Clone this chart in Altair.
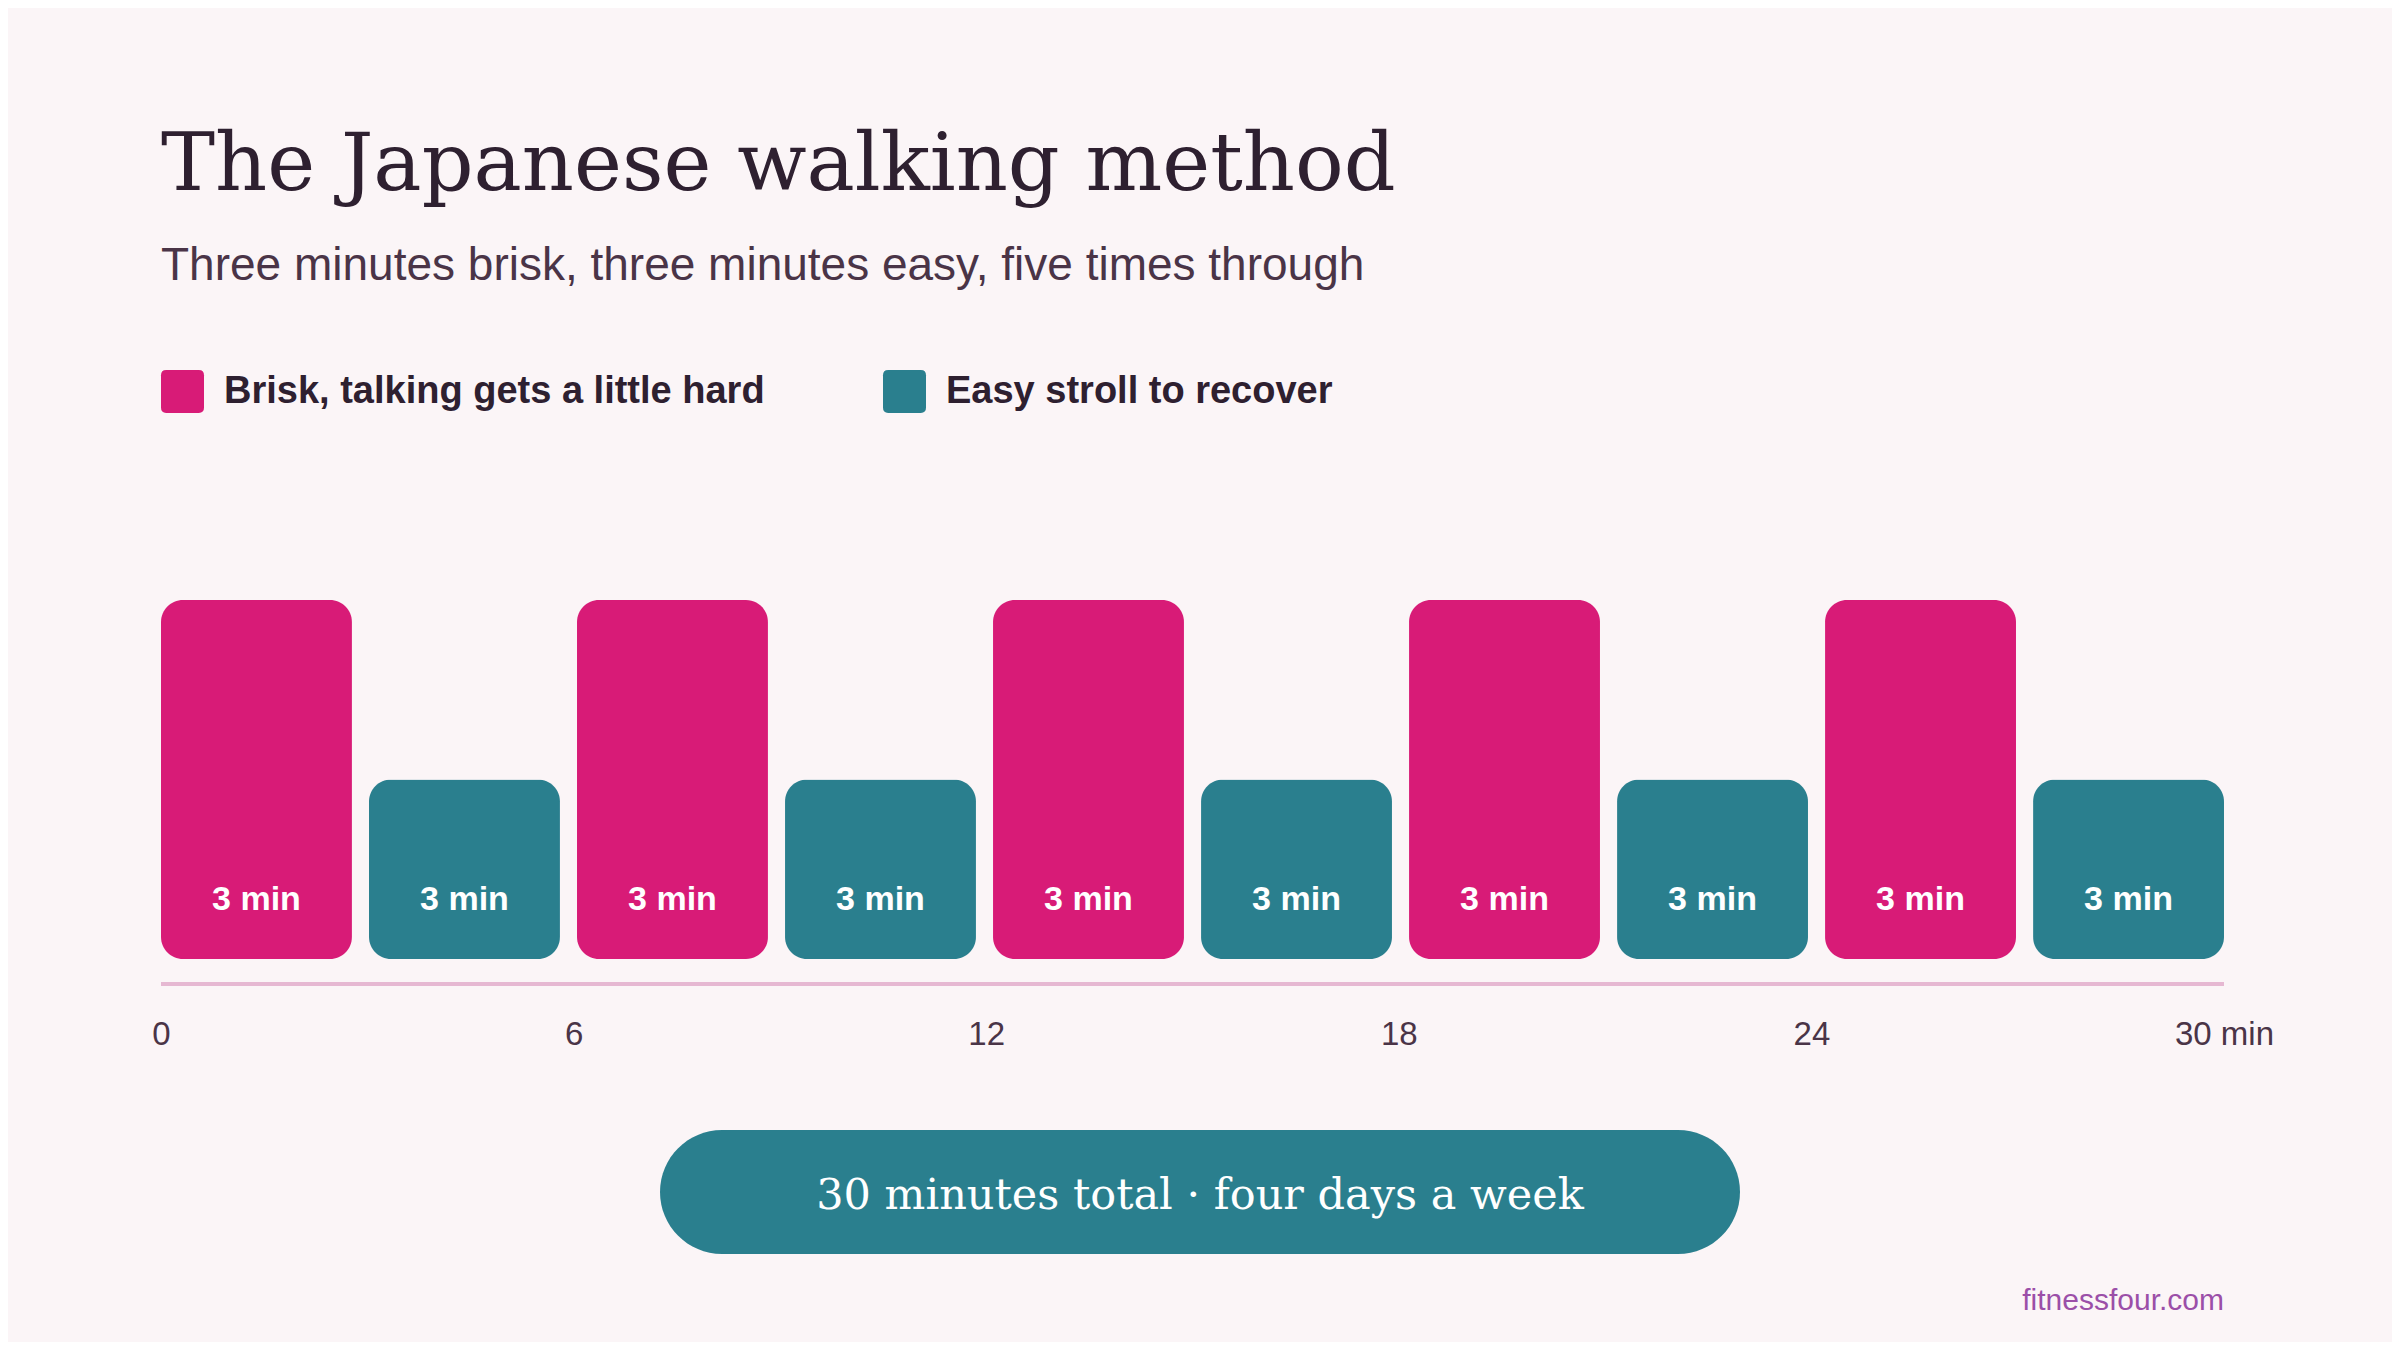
import altair as alt
import pandas as pd

# ---- data ----
KINDS = ["Brisk, talking gets a little hard", "Easy stroll to recover"]
SEGMENT_KIND = [
    "Brisk, talking gets a little hard", "Easy stroll to recover",
    "Brisk, talking gets a little hard", "Easy stroll to recover",
    "Brisk, talking gets a little hard", "Easy stroll to recover",
    "Brisk, talking gets a little hard", "Easy stroll to recover",
    "Brisk, talking gets a little hard", "Easy stroll to recover",
]
SEGMENT_MINUTES = [3, 3, 3, 3, 3, 3, 3, 3, 3, 3]
SEGMENT_EFFORT = [2, 1, 2, 1, 2, 1, 2, 1, 2, 1]
TICK_VALUES = [0, 6, 12, 18, 24, 30]
DAYS_WORD = "four"

TITLE = "The Japanese walking method"
SUBTITLE = "Three minutes brisk, three minutes easy, five times through"
SOURCE = "fitnessfour.com"

# ---- styles ----
BG = "#FBF5F7"
PINK = "#D81B77"
TEAL = "#2A7F8E"
INK = "#2E2030"
INK2 = "#4A3447"
AXIS_PINK = "#E6B8D2"
PURPLE = "#9B4FA8"
SANS = "Liberation Sans"
SERIF = "DejaVu Serif"

W, H = 2384, 1334
X_RANGE = [153, 2216]

total = sum(SEGMENT_MINUTES)
df = pd.DataFrame({
    "seg": list(range(len(SEGMENT_KIND))),
    "kind": SEGMENT_KIND,
    "minutes": SEGMENT_MINUTES,
    "effort": SEGMENT_EFFORT,
})
df["label"] = df["minutes"].astype(str) + " min"

band = alt.Scale(type="band", range=X_RANGE, paddingInner=0.082, paddingOuter=0)
yscale = alt.Scale(domain=[0, 2], range=[951, 592])

rounded = ("M -0.76 -1 L 0.76 -1 Q 1 -1 1 -0.76 L 1 0.76 Q 1 1 0.76 1 "
           "L -0.76 1 Q -1 1 -1 0.76 L -1 -0.76 Q -1 -1 -0.76 -1 Z")

bars = alt.Chart(df).mark_bar(cornerRadius=22).encode(
    x=alt.X("seg:O", scale=band, axis=None),
    y=alt.Y("effort:Q", scale=yscale, axis=None),
    color=alt.Color(
        "kind:N",
        scale=alt.Scale(domain=KINDS, range=[PINK, TEAL]),
        legend=alt.Legend(
            orient="none", legendX=153, legendY=362, direction="horizontal",
            title=None, symbolType=rounded, symbolSize=1849, symbolStrokeWidth=0,
            symbolOpacity=1, labelFont=SANS, labelFontWeight="bold", labelFontSize=38,
            labelColor=INK, labelOffset=20, columnPadding=118, labelLimit=1000,
            padding=0,
        ),
    ),
)

bar_labels = alt.Chart(df).mark_text(
    font=SANS, fontWeight="bold", fontSize=34, color="white",
    baseline="alphabetic", dy=-49,
).encode(
    x=alt.X("seg:O", scale=band, axis=None),
    y=alt.Y("zero:Q", scale=yscale, axis=None),
    text="label:N",
).transform_calculate(zero="0")

span = pd.DataFrame({"start": [0], "end": [total]})
timeline = alt.Chart(span).mark_rule(color=AXIS_PINK, strokeWidth=4).encode(
    x=alt.X(
        "start:Q",
        scale=alt.Scale(domain=[0, total], range=X_RANGE, nice=False),
        axis=alt.Axis(
            values=TICK_VALUES, labelExpr=f"datum.value == {total} ? '{total} min' : datum.label",
            domain=False, ticks=False, grid=False, title=None, labelFont=SANS,
            labelFontSize=33, labelColor=INK2, labelBaseline="alphabetic",
            labelPadding=60, labelFlush=False, labelOverlap=False, offset=976 - H,
        ),
    ),
    x2="end:Q",
    y=alt.value(976),
)

pill_df = pd.DataFrame({"text": [f"{total} minutes total \u00b7 {DAYS_WORD} days a week"]})
pill = alt.Chart(pill_df).mark_rect(color=TEAL, cornerRadius=62).encode(
    x=alt.value(652), x2=alt.value(1732), y=alt.value(1122), y2=alt.value(1246),
)
pill_text = alt.Chart(pill_df).mark_text(
    font=SERIF, fontSize=43, color="white", align="center", baseline="alphabetic",
).encode(x=alt.value(1192), y=alt.value(1201), text="text:N")

title_df = pd.DataFrame({"t": [TITLE], "s": [SUBTITLE], "src": [SOURCE]})
title = alt.Chart(title_df).mark_text(
    font=SERIF, fontSize=81, color=INK, align="left", baseline="alphabetic",
).encode(x=alt.value(153), y=alt.value(182), text="t:N")
subtitle = alt.Chart(title_df).mark_text(
    font=SANS, fontSize=46, color=INK2, align="left", baseline="alphabetic",
).encode(x=alt.value(153), y=alt.value(272), text="s:N")
source = alt.Chart(title_df).mark_text(
    font=SANS, fontSize=30, color=PURPLE, align="right", baseline="alphabetic",
).encode(x=alt.value(2216), y=alt.value(1302), text="src:N")

chart = alt.layer(
    bars, bar_labels, timeline, pill, pill_text, title, subtitle, source
).resolve_scale(x="independent").properties(
    width=W, height=H, autosize=alt.AutoSizeParams(type="none"), padding=0,
    background=BG,
).configure_view(strokeWidth=0)

chart.save("out.html", embed_options={"renderer": "svg", "actions": False})
